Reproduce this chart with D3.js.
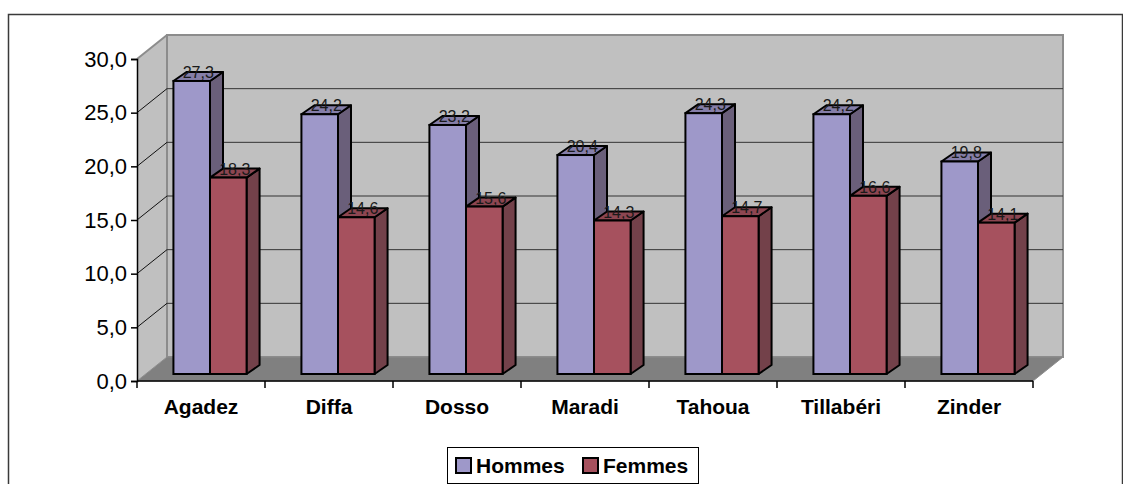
<!DOCTYPE html>
<html>
<head>
<meta charset="utf-8">
<script src="https://cdn.jsdelivr.net/npm/d3@7"></script>
<style>
    body { margin: 0; background: #fff; }
    svg { display: block; font-family: Arial, "Liberation Sans", sans-serif; }
</style>
</head>
<body>
<div id="chart"></div>
<script>
const categories = ["Agadez", "Diffa", "Dosso", "Maradi", "Tahoua", "Tillabéri", "Zinder"];
const seriesNames = ["Hommes", "Femmes"];
const hommes = [27.3, 24.2, 23.2, 20.4, 24.3, 24.2, 19.8];
const femmes = [18.3, 14.6, 15.6, 14.3, 14.7, 16.6, 14.1];
const yTicks = [0, 5, 10, 15, 20, 25, 30];

const colors = {
    Hommes: { front: "#9e98c9", side: "#6a5f7a", top: "#857ea8" },
    Femmes: { front: "#a6515e", side: "#73414a", top: "#8d4651" }
};

document.addEventListener("DOMContentLoaded", function() {
    const width = 1123, height = 484;

    const svg = d3.select("#chart").append("svg")
        .attr("width", width)
        .attr("height", height);

    // outer frame
    svg.append("rect")
        .attr("x", 8.5).attr("y", 14.5)
        .attr("width", 1114).attr("height", 490)
        .attr("fill", "none")
        .attr("stroke", "#3a3a3a")
        .attr("stroke-width", 1.5);

    // front plane scales
    const x = d3.scaleBand().domain(categories).range([137, 1033]);
    const y = d3.scaleLinear().domain([0, 30]).range([381, 59]);

    // depth offsets: walls and bars
    const wallDx = 30, wallDy = -24;
    const barDx = 9, barDy = -7;
    const depthDx = 13, depthDy = -9;

    const fmt = v => d3.format(".1f")(v).replace(".", ",");
    const pts = arr => arr.map(p => p.join(",")).join(" ");

    const x0 = x.range()[0], x1 = x.range()[1];

    // left side wall
    svg.append("polygon")
        .attr("points", pts([[x0, y(30)], [x0 + wallDx, y(30) + wallDy], [x0 + wallDx, y(0) + wallDy], [x0, y(0)]]))
        .attr("fill", "#c0c0c0");

    // back wall
    svg.append("rect")
        .attr("x", x0 + wallDx).attr("y", y(30) + wallDy)
        .attr("width", x1 - x0).attr("height", y(0) - y(30))
        .attr("fill", "#c0c0c0")
        .attr("stroke", "#8c8c8c")
        .attr("stroke-width", 2);

    // floor
    svg.append("polygon")
        .attr("points", pts([[x0, y(0)], [x1, y(0)], [x1 + wallDx, y(0) + wallDy], [x0 + wallDx, y(0) + wallDy]]))
        .attr("fill", "#808080")
        .attr("stroke", "#8c8c8c")
        .attr("stroke-width", 1);

    // top edge of side wall
    svg.append("line")
        .attr("x1", x0).attr("y1", y(30))
        .attr("x2", x0 + wallDx).attr("y2", y(30) + wallDy)
        .attr("stroke", "#8c8c8c").attr("stroke-width", 2);

    // gridlines on back and side walls
    const grid = svg.append("g").attr("class", "grid");
    yTicks.filter(t => t > 0 && t < 30).forEach(t => {
        grid.append("line")
            .attr("x1", x0 + wallDx).attr("x2", x1 + wallDx)
            .attr("y1", y(t) + wallDy).attr("y2", y(t) + wallDy)
            .attr("stroke", "#333").attr("stroke-width", 1);
        grid.append("line")
            .attr("x1", x0).attr("y1", y(t))
            .attr("x2", x0 + wallDx).attr("y2", y(t) + wallDy)
            .attr("stroke", "#111").attr("stroke-width", 1);
    });

    // y axis
    const yAxis = svg.append("g")
        .attr("transform", `translate(${x0},0)`)
        .call(d3.axisLeft(y).tickValues(yTicks).tickSize(6).tickPadding(4).tickFormat(fmt));
    yAxis.select(".domain").attr("stroke", "#000").attr("stroke-width", 1.5);
    yAxis.selectAll(".tick line").attr("stroke", "#000").attr("stroke-width", 1.5);
    yAxis.selectAll("text")
        .attr("font-size", 22)
        .attr("font-family", "Arial, 'Liberation Sans', sans-serif")
        .attr("fill", "#000");

    // x axis
    const bounds = categories.map(c => x(c)).concat([x1]);
    const xAxis = svg.append("g");
    xAxis.append("line")
        .attr("x1", x0).attr("x2", x1)
        .attr("y1", y(0)).attr("y2", y(0))
        .attr("stroke", "#000").attr("stroke-width", 1.5);
    xAxis.selectAll(".xtick")
        .data(bounds)
        .enter().append("line")
        .attr("x1", d => d).attr("x2", d => d)
        .attr("y1", y(0)).attr("y2", y(0) + 7)
        .attr("stroke", "#000").attr("stroke-width", 1.5);
    xAxis.selectAll(".xlabel")
        .data(categories)
        .enter().append("text")
        .attr("x", d => x(d) + x.bandwidth() / 2)
        .attr("y", 414)
        .attr("text-anchor", "middle")
        .attr("font-size", 21)
        .attr("font-weight", "bold")
        .text(d => d);

    // bars (gap width 150%)
    const barW = x.bandwidth() / 3.5;
    const gap = barW * 1.5;
    const barData = [];
    categories.forEach((c, i) => {
        [hommes[i], femmes[i]].forEach((v, s) => {
            barData.push({ cat: c, series: seriesNames[s], value: v, x: x(c) + gap / 2 + s * barW + barDx });
        });
    });

    const bars = svg.append("g").attr("class", "bars")
        .selectAll("g")
        .data(barData)
        .enter().append("g");

    const base = d => y(0) + barDy;
    const top = d => y(d.value) + barDy;

    bars.append("polygon")
        .attr("points", d => pts([[d.x + barW, top(d)], [d.x + barW + depthDx, top(d) + depthDy], [d.x + barW + depthDx, base(d) + depthDy], [d.x + barW, base(d)]]))
        .attr("fill", d => colors[d.series].side)
        .attr("stroke", "#000").attr("stroke-width", 2).attr("stroke-linejoin", "round");

    bars.append("polygon")
        .attr("points", d => pts([[d.x, top(d)], [d.x + depthDx, top(d) + depthDy], [d.x + barW + depthDx, top(d) + depthDy], [d.x + barW, top(d)]]))
        .attr("fill", d => colors[d.series].top)
        .attr("stroke", "#000").attr("stroke-width", 2).attr("stroke-linejoin", "round");

    bars.append("rect")
        .attr("x", d => d.x)
        .attr("y", d => top(d))
        .attr("width", barW)
        .attr("height", d => base(d) - top(d))
        .attr("fill", d => colors[d.series].front)
        .attr("stroke", "#000").attr("stroke-width", 2);

    // value labels
    bars.append("text")
        .attr("x", d => d.x + barW / 2 + depthDx / 2)
        .attr("y", d => top(d) + depthDy / 2 + 1.5)
        .attr("text-anchor", "middle")
        .attr("font-size", 16)
        .attr("fill", "#1a1a1a")
        .text(d => fmt(d.value));

    // legend
    const legend = svg.append("g").attr("transform", "translate(447,447)");
    legend.append("rect")
        .attr("x", 0.5).attr("y", 0.5)
        .attr("width", 251).attr("height", 36)
        .attr("fill", "#fff")
        .attr("stroke", "#000").attr("stroke-width", 1);

    const items = legend.selectAll(".item")
        .data(seriesNames)
        .enter().append("g")
        .attr("transform", (d, i) => `translate(${i === 0 ? 8 : 135},0)`);
    items.append("rect")
        .attr("x", 1).attr("y", 11)
        .attr("width", 15).attr("height", 15)
        .attr("fill", d => colors[d].front)
        .attr("stroke", "#000").attr("stroke-width", 2);
    items.append("text")
        .attr("x", 21).attr("y", 26)
        .attr("font-size", 21)
        .attr("font-weight", "bold")
        .text(d => d);
});
</script>
</body>
</html>
